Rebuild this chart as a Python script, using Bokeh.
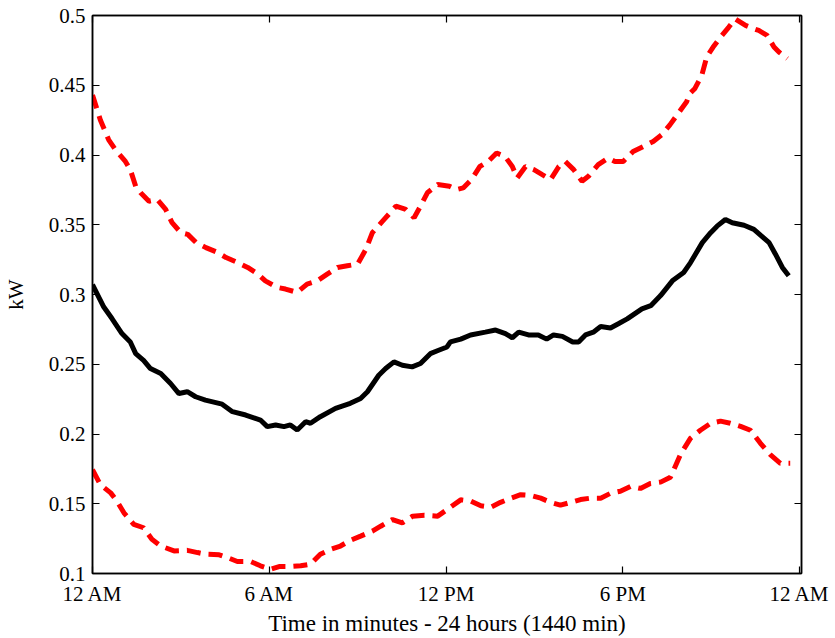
from bokeh.plotting import figure
from bokeh.models import FixedTicker, LinearAxis, NumeralTickFormatter, Range1d, CustomJSTickFormatter
from bokeh.embed import file_html
from bokeh.resources import INLINE

# ---- data (minutes since midnight, kW) ----
mean_t = [0, 23, 40, 60, 77, 88, 104, 118, 139, 159, 176, 193, 210, 230, 264, 285, 312, 342,
          356, 373, 390, 403, 417, 434, 444, 464, 495, 525, 546, 560, 583, 597, 614, 631, 651,
          668, 688, 705, 722, 729, 750, 770, 800, 821, 841, 855, 868, 888, 908, 925, 939, 957,
          978, 990, 1004, 1020, 1035, 1055, 1071, 1089, 1119, 1137, 1157, 1181, 1204, 1218,
          1242, 1259, 1272, 1289, 1303, 1327, 1347, 1361, 1378, 1391, 1405, 1418]
mean_kw = [0.307, 0.291, 0.2826, 0.272, 0.266, 0.2576, 0.2528, 0.2469, 0.2433, 0.2362, 0.229,
           0.2303, 0.2267, 0.2243, 0.2214, 0.216, 0.2136, 0.21, 0.2053, 0.2065, 0.2053, 0.2065,
           0.2029, 0.2088, 0.2077, 0.2124, 0.2184, 0.222, 0.2255, 0.2303, 0.2421, 0.2469, 0.2517,
           0.2493, 0.2481, 0.2505, 0.2576, 0.26, 0.2624, 0.266, 0.268, 0.271, 0.273, 0.2745,
           0.272, 0.269, 0.273, 0.271, 0.271, 0.268, 0.271, 0.270, 0.266, 0.266, 0.271, 0.273,
           0.277, 0.276, 0.279, 0.2825, 0.2897, 0.292, 0.2992, 0.3098, 0.3158, 0.3229, 0.3372,
           0.3443, 0.349, 0.3538, 0.3514, 0.3496, 0.3467, 0.3424, 0.3372, 0.3289, 0.3194, 0.3134]

upper_t = [0, 16, 33, 47, 67, 77, 88, 98, 115, 132, 149, 162, 180, 194, 211, 231, 255, 272, 295,
           316, 337, 352, 376, 393, 417, 437, 458, 478, 499, 519, 540, 557, 570, 594, 618, 638,
           655, 668, 682, 703, 727, 741, 755, 772, 789, 806, 823, 840, 855, 865, 882, 899, 916,
           933, 950, 963, 980, 997, 1010, 1030, 1050, 1064, 1081, 1101, 1122, 1142, 1159, 1176,
           1193, 1210, 1217, 1227, 1241, 1251, 1264, 1282, 1296, 1309, 1330, 1347, 1357, 1374,
           1388, 1398, 1415]
upper_kw = [0.443, 0.4251, 0.4109, 0.4037, 0.3954, 0.3895, 0.3776, 0.3729, 0.3669, 0.3681,
            0.361, 0.3515, 0.3443, 0.3431, 0.3372, 0.3336, 0.3301, 0.3265, 0.323, 0.3194, 0.3146,
            0.3098, 0.3051, 0.3039, 0.3015, 0.3075, 0.3098, 0.3146, 0.3194, 0.3206, 0.3218,
            0.3325, 0.3443, 0.3538, 0.3633, 0.361, 0.355, 0.3633, 0.3729, 0.3788, 0.3776, 0.3752,
            0.3764, 0.3824, 0.3918, 0.3954, 0.4014, 0.399, 0.3918, 0.3836, 0.3918, 0.3895, 0.3859,
            0.3824, 0.3918, 0.3954, 0.3895, 0.3812, 0.3847, 0.3931, 0.3978, 0.3954, 0.3954,
            0.4025, 0.4061, 0.4097, 0.4144, 0.4216, 0.4299, 0.4382, 0.4442, 0.4477, 0.4572,
            0.4703, 0.4774, 0.4857, 0.4917, 0.4976, 0.4929, 0.4905, 0.4893, 0.4857, 0.4774,
            0.4738, 0.4691, 0.4608, 0.4477]

lower_t = [0, 16, 37, 50, 64, 84, 104, 121, 139, 166, 193, 214, 231, 258, 275, 295, 322, 342,
           363, 380, 403, 424, 444, 464, 485, 505, 525, 546, 570, 587, 611, 631, 652, 676, 703,
           727, 750, 770, 791, 811, 831, 852, 872, 892, 913, 933, 953, 974, 994, 1014, 1035,
           1055, 1075, 1096, 1116, 1136, 1157, 1177, 1198, 1218, 1238, 1259, 1279, 1299, 1320,
           1340, 1360, 1381, 1401, 1421]
lower_kw = [0.1744, 0.1637, 0.1578, 0.1518, 0.1435, 0.1352, 0.1328, 0.1245, 0.1197, 0.1162,
            0.1166, 0.115, 0.1138, 0.1134, 0.1114, 0.1086, 0.1086, 0.1055, 0.1031, 0.105, 0.105,
            0.1055, 0.1067, 0.1138, 0.1173, 0.1197, 0.1237, 0.1268, 0.1304, 0.1339, 0.1387,
            0.1363, 0.1411, 0.1418, 0.1411, 0.147, 0.1528, 0.1520, 0.1485, 0.1475, 0.151, 0.154,
            0.1565, 0.156, 0.154, 0.151, 0.149, 0.151, 0.153, 0.154, 0.154, 0.1575, 0.159, 0.1625,
            0.1610, 0.1645, 0.1655, 0.169, 0.1856, 0.1970, 0.2027, 0.2077, 0.2092, 0.2077, 0.2055,
            0.2027, 0.1935, 0.185, 0.179, 0.179]

x_ticks = [0, 360, 720, 1080, 1440]
x_tick_labels = ["12 AM", "6 AM", "12 PM", "6 PM", "12 AM"]
y_ticks = [0.1, 0.15, 0.2, 0.25, 0.3, 0.35, 0.4, 0.45, 0.5]

FONT = "Liberation Serif"

p = figure(width=835, height=638, output_backend="svg", toolbar_location=None,
           x_range=Range1d(0, 1444), y_range=Range1d(0.1, 0.5),
           min_border_left=92, min_border_right=34, min_border_top=15, min_border_bottom=62,
           x_axis_label="Time in minutes - 24 hours (1440 min)", y_axis_label="kW")
p.grid.visible = False
p.outline_line_color = "black"
p.outline_line_width = 1.5
p.background_fill_color = "white"
p.border_fill_color = "white"

p.line(lower_t, lower_kw, line_color="#ff0000", line_width=5, line_dash="14 8")
p.line(upper_t, upper_kw, line_color="#ff0000", line_width=5, line_dash="14 8")
p.line(mean_t, mean_kw, line_color="black", line_width=5)

xa = p.xaxis[0]
xa.ticker = FixedTicker(ticks=x_ticks)
xa.major_label_overrides = {t: l for t, l in zip(x_ticks, x_tick_labels)}
ya = p.yaxis[0]
ya.ticker = FixedTicker(ticks=y_ticks)
ya.formatter = NumeralTickFormatter(format="0.[00]")

for ax in (xa, ya):
    ax.major_tick_in = 7
    ax.major_tick_out = 0
    ax.minor_tick_in = 0
    ax.minor_tick_out = 0
    ax.axis_line_width = 1.5
    ax.major_tick_line_width = 1.2
    ax.major_label_text_font = FONT
    ax.major_label_text_font_size = "21px"
    ax.major_label_text_color = "black"
    ax.axis_label_text_font = FONT
    ax.axis_label_text_font_size = "23px"
    ax.axis_label_text_font_style = "normal"
    ax.axis_label_text_color = "black"
xa.major_label_standoff = 8
xa.axis_label_standoff = 2
ya.major_label_standoff = 7
ya.axis_label_standoff = 18
ya.axis_label_text_font_size = "21px"

# mirrored tick marks on top and right (box style), no labels
blank = CustomJSTickFormatter(code="return ''")
top = LinearAxis(ticker=FixedTicker(ticks=x_ticks), formatter=blank,
                 major_label_text_font_size="1px", major_label_standoff=0,
                 major_tick_in=7, major_tick_out=0, minor_tick_in=0, minor_tick_out=0,
                 axis_line_width=1.5, major_tick_line_width=1.2)
right = LinearAxis(ticker=FixedTicker(ticks=y_ticks), formatter=blank,
                   major_label_text_font_size="1px", major_label_standoff=0,
                   major_tick_in=7, major_tick_out=0, minor_tick_in=0, minor_tick_out=0,
                   axis_line_width=1.5, major_tick_line_width=1.2)
p.add_layout(top, "above")
p.add_layout(right, "right")

open("out.html", "w").write(file_html(p, INLINE))
